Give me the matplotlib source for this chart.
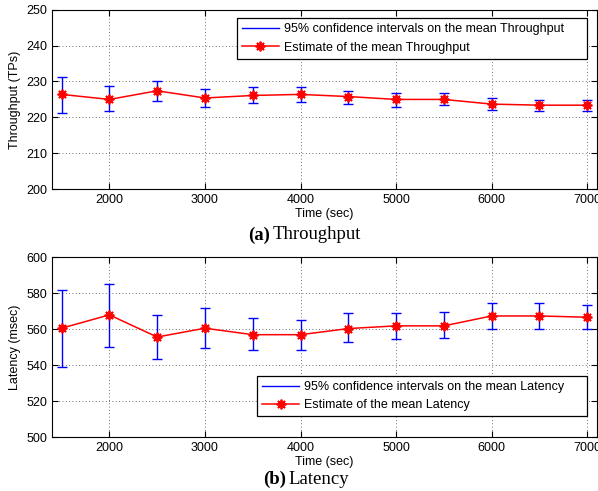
import matplotlib.pyplot as plt
import numpy as np

plt.rcParams['font.family'] = ['Liberation Sans', 'DejaVu Sans']

time = [1500, 2000, 2500, 3000, 3500, 4000, 4500, 5000, 5500, 6000, 6500, 7000]

tp_mean = [226.4, 225.0, 227.4, 225.4, 226.1, 226.4, 225.8, 225.0, 225.0, 223.7, 223.4, 223.4]
tp_low = [221.2, 221.7, 224.7, 223.0, 224.0, 224.4, 223.7, 223.0, 223.4, 222.0, 221.7, 221.7]
tp_high = [231.3, 228.8, 230.2, 227.8, 228.5, 228.5, 227.4, 226.8, 226.8, 225.4, 224.8, 224.8]

lat_mean = [560.6, 568.0, 555.7, 560.6, 557.0, 557.0, 560.4, 561.9, 561.9, 567.4, 567.4, 566.7]
lat_low = [539.3, 550.2, 543.3, 549.4, 548.3, 548.3, 553.0, 554.4, 555.2, 560.4, 560.4, 560.4]
lat_high = [581.9, 585.4, 568.1, 571.7, 566.5, 565.4, 568.9, 568.9, 569.4, 574.4, 574.4, 573.7]

x_ticks = [2000, 3000, 4000, 5000, 6000, 7000]

asterisk = (8, 2, 0)


def draw_panel(ax, mean, low, high, ylim, yticks, ylabel, name, leg_box):
    mean = np.array(mean)
    err = [mean - np.array(low), np.array(high) - mean]
    ax.errorbar(time, mean, yerr=err, fmt='none', ecolor='blue', elinewidth=1,
                capsize=3.7, capthick=1)
    est, = ax.plot(time, mean, color='red', marker=asterisk, markersize=7,
                   markeredgewidth=1.3, lw=1.1)

    ax.set_xlim(1400, 7100)
    ax.set_ylim(*ylim)
    ax.set_xticks(x_ticks)
    ax.set_yticks(yticks)
    ax.grid(True, color='#444444', linestyle=(0, (1, 3)), linewidth=0.6)
    ax.tick_params(direction='in', top=True, right=True, labelsize=9, length=4)
    ax.set_xlabel('Time (sec)', fontsize=9, labelpad=1)
    ax.set_ylabel(ylabel, fontsize=9)

    ci_line = plt.Line2D([], [], color='blue', lw=1)
    leg = ax.legend([ci_line, est],
                    ['95% confidence intervals on the mean ' + name,
                     'Estimate of the mean ' + name],
                    loc='upper left', bbox_to_anchor=leg_box, mode='expand',
                    fontsize=9, fancybox=False, framealpha=1, edgecolor='black',
                    handlelength=3.0, handletextpad=0.4, borderaxespad=0,
                    labelspacing=0.5)
    leg.get_frame().set_linewidth(0.9)


fig = plt.figure(figsize=(5.98, 4.91), dpi=100)
ax1 = fig.add_axes([0.087, 0.6145, 0.911, 0.366])
ax2 = fig.add_axes([0.087, 0.1094, 0.911, 0.3666])

draw_panel(ax1, tp_mean, tp_low, tp_high, (200, 250), range(200, 251, 10),
           'Throughput (TPs)', 'Throughput', (0.339, 0.951, 0.643, 0.0))
draw_panel(ax2, lat_mean, lat_low, lat_high, (500, 600), range(500, 601, 20),
           'Latency (msec)', 'Latency', (0.376, 0.341, 0.606, 0.0))

cap_font = ['Liberation Serif', 'DejaVu Serif']
fig.text(0.452, 1 - 235 / 491, '(a)', family=cap_font, fontsize=13.5, weight='bold',
         ha='right', va='center')
fig.text(0.456, 1 - 235 / 491, 'Throughput', family=cap_font, fontsize=13.5,
         ha='left', va='center')
fig.text(0.479, 1 - 479 / 491, '(b)', family=cap_font, fontsize=13.5, weight='bold',
         ha='right', va='center')
fig.text(0.483, 1 - 479 / 491, 'Latency', family=cap_font, fontsize=13.5,
         ha='left', va='center')

fig.savefig('out.png', dpi=100)
